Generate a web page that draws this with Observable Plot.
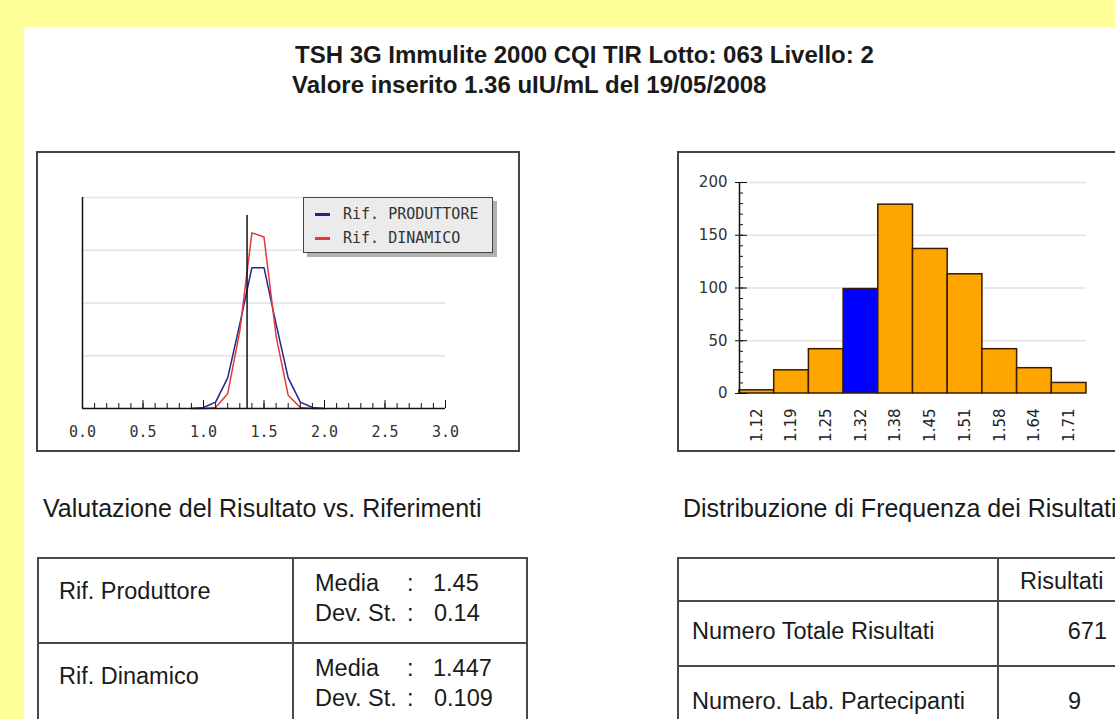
<!DOCTYPE html>
<html>
<head>
<meta charset="utf-8">
<script src="https://cdn.jsdelivr.net/npm/d3@7"></script>
<script src="https://cdn.jsdelivr.net/npm/@observablehq/plot@0.6"></script>
<style>
html, body { margin: 0; padding: 0; }
body { width: 1115px; height: 719px; overflow: hidden; background: #ffff99; position: relative;
       font-family: "Liberation Sans", Arial, sans-serif; }
#panel { position: absolute; left: 24px; top: 27px; width: 1200px; height: 800px; background: #fff; }
.t { position: absolute; white-space: nowrap; color: #1a1a1a; }
.box { position: absolute; box-sizing: border-box; border: 2px solid #444; }
.svgwrap { position: absolute; }
.line { position: absolute; background: #4a4a4a; }
#legend { position: absolute; left: 303px; top: 197px; width: 190px; height: 56px; box-sizing: border-box;
          background: #ebebeb; border: 1.5px solid #444; box-shadow: 4px 4px 0 #b0b0b0; }
</style>
</head>
<body>
<div id="panel"></div>
<script>
// ---------- data ----------
const titleLines = ["TSH 3G Immulite 2000 CQI TIR Lotto: 063 Livello: 2",
                    "Valore inserito 1.36 uIU/mL del 19/05/2008"];
const captions = ["Valutazione del Risultato vs. Riferimenti",
                  "Distribuzione di Frequenza dei Risultati"];

// left chart: reference curves
const seriesNames = ["Rif. PRODUTTORE", "Rif. DINAMICO"];
const seriesColors = ["#24248c", "#e23a3a"];
const curveX      = [0.9, 1.0, 1.1, 1.2, 1.3, 1.4, 1.5, 1.6, 1.7, 1.8, 1.9, 2.0];
const produttore  = [0, 0.02, 0.12, 0.58, 1.6, 2.67, 2.67, 1.6, 0.58, 0.12, 0.02, 0];
const dinamico    = [0, 0, 0.02, 0.28, 1.47, 3.33, 3.25, 1.37, 0.25, 0.02, 0, 0];
const valoreInserito = 1.36;
const valoreHeight = 3.66;
const leftMajorTicks = [0, 0.5, 1.0, 1.5, 2.0, 2.5, 3.0];
const leftMinorTicks = [0,0.1,0.2,0.3,0.4,0.5,0.6,0.7,0.8,0.9,1.0,1.1,1.2,1.3,1.4,1.5,1.6,1.7,1.8,1.9,2.0,2.1,2.2,2.3,2.4,2.5,2.6,2.7,2.8,2.9,3.0];
const leftGrid = [1, 2, 3, 4];

// right chart: histogram
const binLabels = ["1.12", "1.19", "1.25", "1.32", "1.38", "1.45", "1.51", "1.58", "1.64", "1.71"];
const binCounts = [3, 22, 42, 99, 179, 137, 113, 42, 24, 10];
const selectedBin = "1.32";
const rightMajorTicks = [0, 50, 100, 150, 200];
const rightMinorTicks = [0,10,20,30,40,50,60,70,80,90,100,110,120,130,140,150,160,170,180,190,200];

// tables
const refNames = ["Rif. Produttore", "Rif. Dinamico"];
const mediaValues = ["1.45", "1.447"];
const devStValues = ["0.14", "0.109"];
const statHeader = "Risultati";
const statNames = ["Numero Totale Risultati", "Numero. Lab. Partecipanti"];
const statValues = ["671", "9"];

// ---------- helpers ----------
function txt(s, x, baseline, size, opts = {}) {
  const d = document.createElement("div");
  d.className = "t";
  d.textContent = s;
  d.style.fontSize = size + "px";
  d.style.lineHeight = size + "px";
  d.style.top = (baseline - 0.8465 * size) + "px";
  d.style.left = x + "px";
  if (opts.bold) d.style.fontWeight = "bold";
  if (opts.end) d.style.transform = "translateX(-100%)";
  document.body.appendChild(d);
  return d;
}
function div(cls, x, y, w, h, extra = {}) {
  const d = document.createElement("div");
  d.className = cls;
  Object.assign(d.style, {left: x + "px", top: y + "px", width: w + "px", height: h + "px"}, extra);
  document.body.appendChild(d);
  return d;
}

// ---------- titles ----------
txt(titleLines[0], 295, 63, 24, {bold: true});
txt(titleLines[1], 292, 93, 24, {bold: true});

// ---------- left chart ----------
div("box", 36, 151, 484, 301);
const curveData = curveX.flatMap((x, i) => [
  {x, y: produttore[i], s: seriesNames[0]},
  {x, y: dinamico[i], s: seriesNames[1]}
]);
const leftPlot = Plot.plot({
  width: 484, height: 301,
  marginLeft: 46, marginRight: 75, marginTop: 46, marginBottom: 44,
  x: {domain: [0, 3], label: null},
  y: {domain: [0, 4], label: null, axis: null},
  color: {domain: seriesNames, range: seriesColors},
  style: {background: "transparent", fontFamily: "DejaVu Sans Mono", fontSize: "15px", color: "#333", overflow: "visible"},
  marks: [
    Plot.gridY(leftGrid, {stroke: "#e2e2e2", strokeOpacity: 1, strokeWidth: 1.5}),
    Plot.line(curveData, {x: "x", y: "y", z: "s", stroke: "s", strokeWidth: 1.5}),
    Plot.ruleX([valoreInserito], {y1: 0, y2: valoreHeight, stroke: "#111", strokeWidth: 1.5}),
    Plot.ruleX([0], {stroke: "#111", strokeWidth: 1.5}),
    Plot.ruleY([0], {stroke: "#111", strokeWidth: 1.5}),
    Plot.axisX({ticks: leftMinorTicks, tickSize: -5, tickFormat: () => "", fill: "none", stroke: "#111", label: null}),
    Plot.axisX({ticks: leftMajorTicks, tickSize: -8, tickFormat: () => "", fill: "none", stroke: "#111", label: null}),
    Plot.axisX({ticks: leftMajorTicks, tickSize: 0, tickPadding: 18, tickFormat: d => d.toFixed(1), fill: "#333", label: null})
  ]
});
const lw = div("svgwrap", 36, 151, 484, 301);
lw.appendChild(leftPlot);

// legend
const legend = document.createElement("div");
legend.id = "legend";
document.body.appendChild(legend);
seriesNames.forEach((name, i) => {
  const y = 214 + i * 24;
  div("line", 315, y - 1.5, 15, 3, {background: seriesColors[i]});
  const t = txt(name, 343, y + 5.5, 15);
  t.style.fontFamily = "DejaVu Sans Mono";
  t.style.color = "#333";
});

// ---------- right chart ----------
div("box", 677, 151, 480, 301);
const bins = binLabels.map((b, i) => ({b, n: binCounts[i], i}));
const rightPlot = Plot.plot({
  width: 460, height: 301,
  marginLeft: 62, marginRight: 51, marginTop: 31, marginBottom: 59,
  x: {domain: [0, binLabels.length], label: null},
  y: {domain: [0, 200], label: null},
  style: {background: "transparent", fontFamily: "DejaVu Sans", fontSize: "15px", color: "#333", overflow: "visible"},
  marks: [
    Plot.gridY(rightMajorTicks.slice(1), {stroke: "#e2e2e2", strokeOpacity: 1, strokeWidth: 1.5}),
    Plot.rectY(bins, {x1: d => d.i, x2: d => d.i + 1, y: "n",
      fill: d => d.b === selectedBin ? "#0000ff" : "#ffa500", stroke: "#3a1c00", strokeWidth: 1.5}),
    Plot.ruleX([0], {stroke: "#111", strokeWidth: 1.5}),
    Plot.axisY({ticks: rightMinorTicks, tickSize: -4, tickFormat: () => "", fill: "none", stroke: "#111", label: null}),
    Plot.axisY({ticks: rightMajorTicks, tickSize: 4, tickPadding: 8, fill: "#333", stroke: "#111", label: null}),
    Plot.axisY({ticks: rightMajorTicks, tickSize: -8, tickFormat: () => "", fill: "none", stroke: "#111", label: null}),
    Plot.axisX({ticks: bins.map(d => d.i + 0.5), tickFormat: d => binLabels[Math.floor(d)],
      tickRotate: -90, tickSize: 0, tickPadding: 15, fill: "#222", label: null})
  ]
});
const rw = div("svgwrap", 677, 151, 460, 301);
rw.appendChild(rightPlot);

// ---------- captions ----------
txt(captions[0], 43, 517, 25);
txt(captions[1], 683, 517, 25);

// ---------- left table ----------
div("line", 37, 557, 491, 2);
div("line", 37, 557, 2, 200);
div("line", 526, 557, 2, 200);
div("line", 292, 557, 2, 200);
div("line", 37, 642, 491, 2);
refNames.forEach((name, i) => {
  const off = i * 85;
  txt(name, 59, 600 + off, 23.5);
  txt("Media", 315, 592 + off, 23.5);
  txt(":", 407, 592 + off, 23.5);
  txt(mediaValues[i], 433, 592 + off, 23.5);
  txt("Dev. St.", 315, 622 + off, 23.5);
  txt(":", 407, 622 + off, 23.5);
  txt(devStValues[i], 434, 622 + off, 23.5);
});

// ---------- right table ----------
div("line", 677, 557, 500, 2);
div("line", 677, 557, 2, 200);
div("line", 997, 557, 2, 200);
div("line", 677, 600, 500, 2);
div("line", 677, 665, 500, 2);
txt(statHeader, 1020, 590, 23.5);
txt(statNames[0], 692, 640, 23.5);
txt(statValues[0], 1107, 640, 23.5, {end: true});
txt(statNames[1], 692, 710, 23.5);
txt(statValues[1], 1068, 710, 23.5);
</script>
</body>
</html>
